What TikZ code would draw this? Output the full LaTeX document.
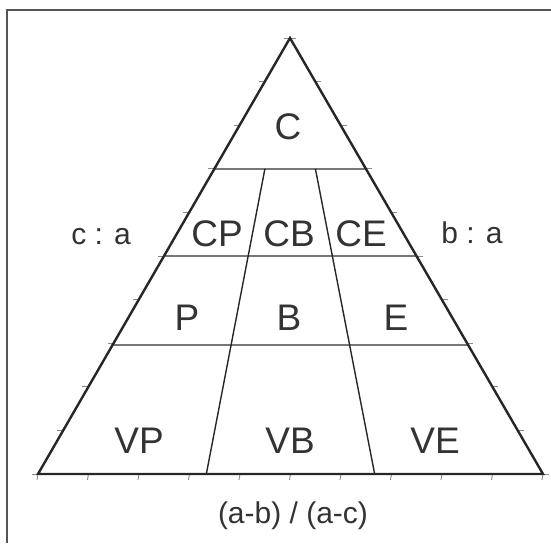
\documentclass[tikz,border=0pt]{standalone}
\usepackage{fontspec}
\setmainfont{Liberation Sans}
\usepackage{tikz}
\usetikzlibrary{calc}
\definecolor{rimStroke}{HTML}{262626}
\definecolor{levelStroke}{HTML}{777777}
\definecolor{tickStroke}{HTML}{8A8A8A}
\definecolor{labelTxt}{HTML}{333333}
\definecolor{frameStroke}{HTML}{555555}
\tikzset{
  rim/.style={draw=rimStroke, line width=2.4pt, line join=miter},
  levelline/.style={draw=levelStroke, line width=1.8pt},
  splitline/.style={draw=rimStroke, line width=1.4pt},
  tickmark/.style={draw=tickStroke, line width=0.9pt},
  zone/.style={text=labelTxt, inner sep=0pt, font=\fontsize{37}{40}\selectfont},
  ratio/.style={text=labelTxt, inner sep=0pt, font=\fontsize{30}{32}\selectfont},
}

\begin{document}
\begin{tikzpicture}[x=1pt, y=-1pt]
    \useasboundingbox (0,0) rectangle (551,543);
    \draw[frameStroke, line width=1.5pt] (7,543) -- (7,10) -- (551,10);

    \coordinate (apex) at (290,38);
    \coordinate (cornerL) at (38,474);
    \coordinate (cornerR) at (543,474);

    \coordinate (h1l) at ($(apex)!0.3!(cornerL)$);
    \coordinate (h1r) at ($(apex)!0.3!(cornerR)$);
    \coordinate (h2l) at ($(apex)!0.5!(cornerL)$);
    \coordinate (h2r) at ($(apex)!0.5!(cornerR)$);
    \coordinate (h3l) at ($(apex)!0.705!(cornerL)$);
    \coordinate (h3r) at ($(apex)!0.705!(cornerR)$);

    \coordinate (d1t) at ($(h1l)!1/3!(h1r)$);
    \coordinate (d2t) at ($(h1l)!2/3!(h1r)$);
    \coordinate (d1b) at ($(cornerL)!1/3!(cornerR)$);
    \coordinate (d2b) at ($(cornerL)!2/3!(cornerR)$);

    \foreach \i in {0,...,10} {
      \draw[tickmark] ($(cornerL)!\i/10!(cornerR)$) -- ++(-1,6);
      \draw[tickmark] ($(apex)!\i/10!(cornerL)$) -- ++(-6,0);
      \draw[tickmark] ($(apex)!\i/10!(cornerR)$) -- ++(6,0);
    }

    \draw[levelline] (h1l) -- (h1r);
    \draw[levelline] (h2l) -- (h2r);
    \draw[levelline] (h3l) -- (h3r);
    \draw[splitline] (d1t) -- (d1b);
    \draw[splitline] (d2t) -- (d2b);
    \draw[rim] (apex) -- (cornerL) -- (cornerR) -- cycle;

    \node[zone] (zoneC) at (288,127) {C};
    \node[zone] (zoneCP) at (217,234) {CP};
    \node[zone] (zoneCB) at (289,234) {CB};
    \node[zone] (zoneCE) at (361,234) {CE};
    \node[zone] (zoneP) at (187,318) {P};
    \node[zone] (zoneB) at (289,318) {B};
    \node[zone] (zoneE) at (396,318) {E};
    \node[zone] (zoneVP) at (139,441) {VP};
    \node[zone] (zoneVB) at (290,441) {VB};
    \node[zone] (zoneVE) at (435,441) {VE};

    \node[ratio] (ratioCA) at (101,237) {c : a};
    \node[ratio] (ratioBA) at (472,233) {b : a};
    \node[ratio] (ratioAB) at (293,516) {(a-b) / (a-c)};
\end{tikzpicture}
\end{document}
